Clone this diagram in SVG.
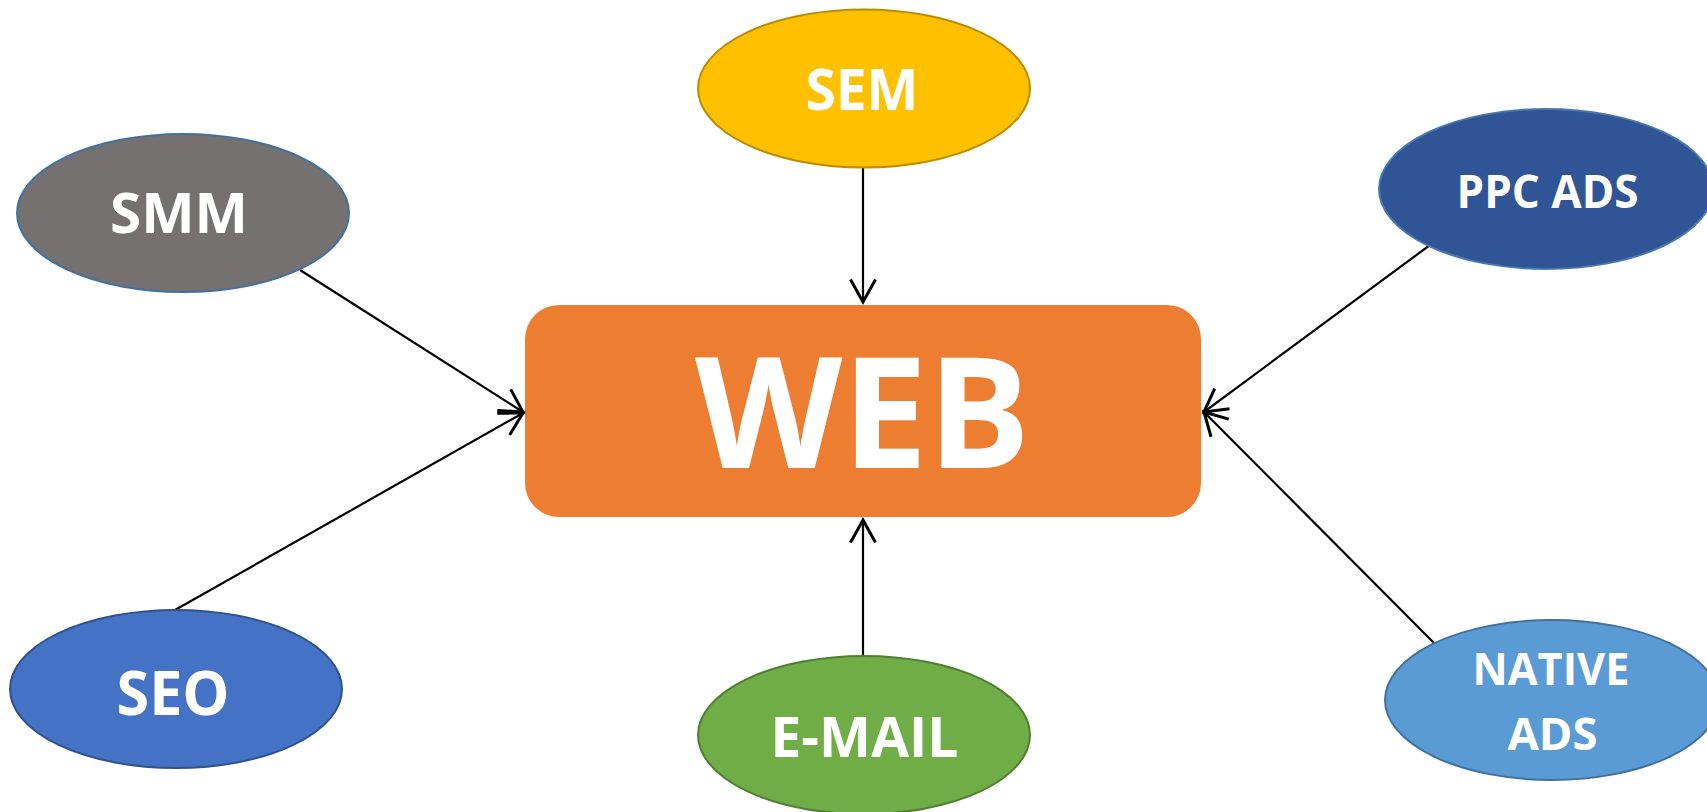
<svg xmlns="http://www.w3.org/2000/svg" width="1707" height="812" viewBox="0 0 1707 812">
  <style>
    .node-text { font-family: "Open Sans", "Liberation Sans", sans-serif; font-weight: bold; fill: #FFFFFF; text-anchor: middle; }
    .oval { stroke-width: 2; }
    .link { stroke: #000000; stroke-width: 2.2; fill: none; marker-end: url(#open-arrow); }
  </style>
  <defs>
    <marker id="open-arrow" markerUnits="userSpaceOnUse" markerWidth="30" markerHeight="30" viewBox="-20 -12 24 24" refX="0" refY="0" orient="auto">
      <path d="M-18,-10 L0,0 L-18,10" fill="none" stroke="#000000" stroke-width="2.4"/>
    </marker>
  </defs>

  <rect width="1707" height="812" fill="#FFFFFF"/>

  <!-- central node -->
  <g id="node-web">
    <rect x="525" y="305" width="676" height="212" rx="34" ry="34" fill="#ED7D31"/>
    <text class="node-text" x="862.5" y="468" font-size="154" textLength="335" lengthAdjust="spacingAndGlyphs">WEB</text>
  </g>

  <!-- connectors -->
  <g id="connectors">
    <line class="link" x1="300" y1="270" x2="523" y2="412"/>
    <line class="link" x1="175" y1="610" x2="523" y2="413"/>
    <line class="link" x1="863" y1="168" x2="863" y2="302"/>
    <line class="link" x1="863" y1="655" x2="863" y2="520"/>
    <line class="link" x1="1430" y1="245" x2="1204" y2="412"/>
    <line class="link" x1="1434" y1="643" x2="1204" y2="412"/>
  </g>

  <!-- channel nodes -->
  <g id="node-smm">
    <ellipse class="oval" cx="183" cy="213" rx="166" ry="79" fill="#767171" stroke="#41719C"/>
    <text class="node-text" x="179" y="233" font-size="56" textLength="138" lengthAdjust="spacingAndGlyphs">SMM</text>
  </g>

  <g id="node-sem">
    <ellipse class="oval" cx="864" cy="88.5" rx="166" ry="79" fill="#FFC000" stroke="#BC8C00"/>
    <text class="node-text" x="862" y="110" font-size="58" textLength="113" lengthAdjust="spacingAndGlyphs">SEM</text>
  </g>

  <g id="node-ppc-ads">
    <ellipse class="oval" cx="1546" cy="189" rx="167" ry="80" fill="#2F5597" stroke="#4A78AE"/>
    <text class="node-text" x="1547.5" y="208" font-size="46" textLength="182" lengthAdjust="spacingAndGlyphs">PPC ADS</text>
  </g>

  <g id="node-seo">
    <ellipse class="oval" cx="176" cy="689" rx="166" ry="79" fill="#4472C4" stroke="#2F528F"/>
    <text class="node-text" x="173" y="715" font-size="61" textLength="113" lengthAdjust="spacingAndGlyphs">SEO</text>
  </g>

  <g id="node-email">
    <ellipse class="oval" cx="864" cy="735" rx="166" ry="79" fill="#70AD47" stroke="#507E32"/>
    <text class="node-text" x="864.5" y="757" font-size="55" textLength="188" lengthAdjust="spacingAndGlyphs">E-MAIL</text>
  </g>

  <g id="node-native-ads">
    <ellipse class="oval" cx="1552" cy="700" rx="167" ry="80" fill="#5B9BD5" stroke="#41719C"/>
    <text class="node-text" x="1551" y="685" font-size="44" textLength="157" lengthAdjust="spacingAndGlyphs">NATIVE</text>
    <text class="node-text" x="1552.5" y="750" font-size="44" textLength="90" lengthAdjust="spacingAndGlyphs">ADS</text>
  </g>
</svg>
